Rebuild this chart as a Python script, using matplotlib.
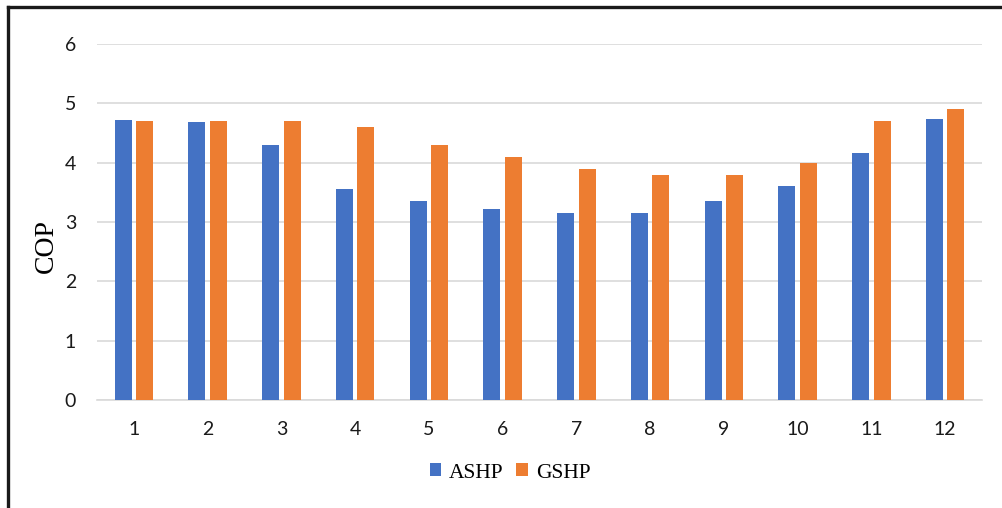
import matplotlib
matplotlib.use("Agg")
import matplotlib.pyplot as plt
from matplotlib.lines import Line2D
import numpy as np

categories = ["1", "2", "3", "4", "5", "6", "7", "8", "9", "10", "11", "12"]
ashp = [4.72, 4.69, 4.30, 3.56, 3.36, 3.22, 3.15, 3.15, 3.36, 3.60, 4.17, 4.74]
gshp = [4.70, 4.70, 4.70, 4.60, 4.30, 4.10, 3.90, 3.80, 3.80, 4.00, 4.70, 4.90]
yticks = [0, 1, 2, 3, 4, 5, 6]

fig = plt.figure(figsize=(10.03, 5.08), dpi=100)
ax = fig.add_axes([97/1003, 1-400/508, (982-97)/1003, (400-44)/508])

x = np.arange(1, len(categories) + 1)
w = 0.23
off = 0.145
ax.bar(x - off, ashp, width=w, color="#4472C4", label="ASHP", zorder=3)
ax.bar(x + off, gshp, width=w, color="#ED7D31", label="GSHP", zorder=3)

ax.set_xlim(0.5, 12.5)
ax.set_ylim(0, 6)
ax.set_xticks(x)
ax.set_xticklabels(categories)
ax.set_yticks(yticks)
ax.yaxis.grid(True, color="#D9D9D9", linewidth=1.2, zorder=0)
for s in ["top", "right", "left"]:
    ax.spines[s].set_visible(False)
ax.spines["bottom"].set_color("#D9D9D9")
ax.spines["bottom"].set_linewidth(1.2)
ax.tick_params(axis="both", length=0, labelsize=14, labelcolor="#1a1a1a", colors="#1a1a1a")
ax.tick_params(axis="y", pad=15)
ax.tick_params(axis="x", pad=15)
for lab in ax.get_xticklabels() + ax.get_yticklabels():
    lab.set_family(["Lato", "DejaVu Sans"])

ax.set_ylabel("COP", family="Liberation Serif", fontsize=20)
ax.yaxis.set_label_coords((59-97)/885, (400-246)/356)

leg = fig.legend(loc="center", bbox_to_anchor=(510/1003, 1-473/508), ncol=2, frameon=False,
                 prop={"family": "Liberation Serif", "size": 15.5},
                 handlelength=0.55, handleheight=0.55, handletextpad=0.35, columnspacing=0.6)

fig.add_artist(Line2D([8/1003, 8/1003], [0, 1-7/508], transform=fig.transFigure, color="#1a1a1a", linewidth=2.4))
fig.add_artist(Line2D([8/1003, 1.0], [1-7/508, 1-7/508], transform=fig.transFigure, color="#1a1a1a", linewidth=2.4))

fig.savefig("out.png", dpi=100)
